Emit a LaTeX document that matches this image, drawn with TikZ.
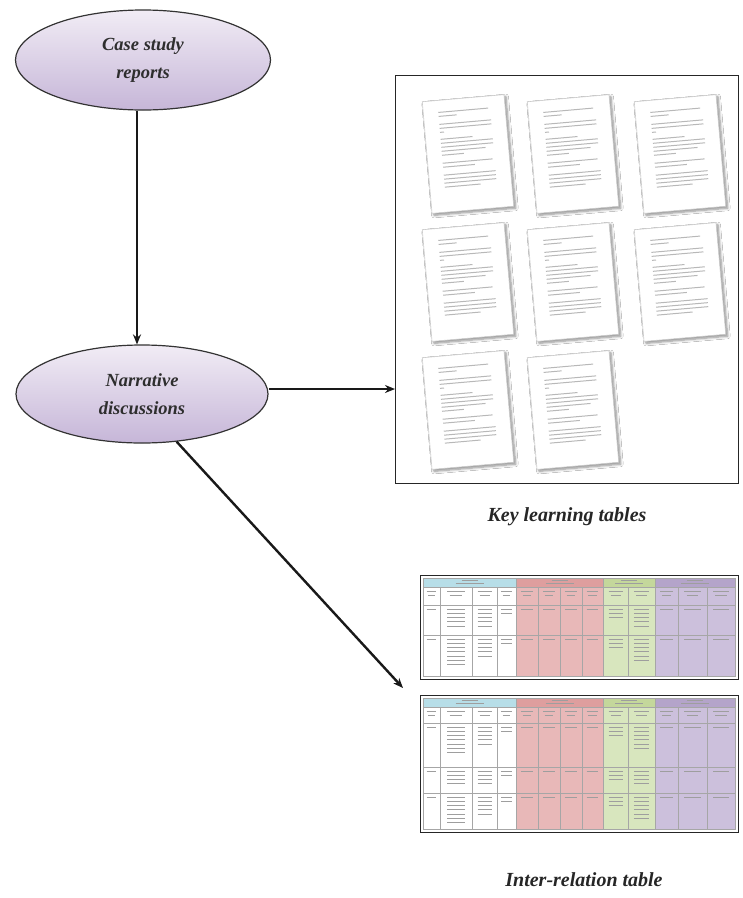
\documentclass[tikz,border=0pt]{standalone}
\usepackage{fontspec}
\setmainfont{Liberation Serif}
\usetikzlibrary{arrows.meta,shapes.geometric,shadows.blur}

\definecolor{ovaltop}{HTML}{F1ECF5}
\definecolor{ovalbot}{HTML}{C6B6D8}
\definecolor{hdblue}{HTML}{B7DEE8}
\definecolor{hdred}{HTML}{DE9E9E}
\definecolor{bdred}{HTML}{E8B8B8}
\definecolor{hdgreen}{HTML}{C4D79B}
\definecolor{bdgreen}{HTML}{D8E6BE}
\definecolor{hdpurple}{HTML}{B4A4CA}
\definecolor{bdpurple}{HTML}{CCC0DC}

\tikzset{
  oval/.style={ellipse, draw=black!80, line width=1.2pt,
    top color=ovaltop, bottom color=ovalbot,
    font=\fontsize{18.5}{28}\selectfont\bfseries\itshape, text=black!82, align=center},
  arr/.style={line width=2.4pt, black!90, -{Stealth[length=10pt,width=8pt]}},
  framebox/.style={draw=black!85, line width=1.4pt, anchor=north west, inner sep=0pt},
  caption/.style={font=\fontsize{20}{22}\selectfont\bfseries\itshape, text=black!85},
  sheet/.style={fill=white, draw=black!20, line width=0.6pt,
    blur shadow={shadow xshift=2pt, shadow yshift=-2pt, shadow blur steps=6, shadow blur radius=2.5pt, shadow opacity=45}},
  sheetline/.style={black!28, line width=1pt},
  cellrule/.style={black!35, line width=0.4pt},
  celltext/.style={black!38, line width=0.8pt},
}

% one printed sheet with lines of text, centred at #1/#2, turned by #3 degrees
\newcommand\sheetat[3]{%
  \begin{scope}[shift={(#1,#2)}, rotate=#3]
    \path[sheet] (-41,-56) rectangle (41,56);
    \foreach \ly/\lx in {-44/24,-40/-8,-32/26,-28/26,-24/-22,-17/6,-13/26,-9/26,-5/18,-1/-4,
                         7/24,11/6,19/26,23/26,27/26,31/10}
      \draw[sheetline] (-26,\ly) -- (\lx,\ly);
  \end{scope}}

% one relation table: #1 top of the inner grid, #2 header/sub-header split,
% #3 sub-header bottom, #4 list of body rows ya/yb, #5 bottom of the grid
\newcommand\reltable[5]{%
  % colour bands
  \fill[hdblue]   (423,#1) rectangle (516,#2);
  \fill[hdred]    (516,#1) rectangle (603,#2);
  \fill[hdgreen]  (603,#1) rectangle (655,#2);
  \fill[hdpurple] (655,#1) rectangle (735,#2);
  \fill[white]    (423,#2) rectangle (516,#5);
  \fill[bdred]    (516,#2) rectangle (603,#5);
  \fill[bdgreen]  (603,#2) rectangle (655,#5);
  \fill[bdpurple] (655,#2) rectangle (735,#5);
  % group titles
  \foreach \gx in {469.5,559.5,629,695}
    {\draw[celltext] (\gx-8,#1+2.5) -- (\gx+8,#1+2.5);
     \draw[celltext] (\gx-14,#1+5.5) -- (\gx+14,#1+5.5);}
  % rules
  \draw[cellrule] (423,#1) rectangle (735,#5);
  \draw[cellrule] (423,#2) -- (735,#2);
  \draw[cellrule] (423,#3) -- (735,#3);
  \foreach \ya/\yb in {#4} \draw[cellrule] (423,\yb) -- (735,\yb);
  \foreach \cx in {440,472,497,538,560,582,628,678,707}
    \draw[cellrule] (\cx,#2) -- (\cx,#5);
  \foreach \cx in {516,603,655}
    \draw[cellrule] (\cx,#1) -- (\cx,#5);
  % sub-header entries
  \foreach \xa/\xb in {423/440,440/472,472/497,497/516,516/538,538/560,560/582,582/603,
                       603/628,628/655,655/678,678/707,707/735}
    {\draw[celltext] ({(\xa+\xb)/2-0.28*(\xb-\xa)},#2+4.5) -- ({(\xa+\xb)/2+0.28*(\xb-\xa)},#2+4.5);
     \draw[celltext] ({(\xa+\xb)/2-0.2*(\xb-\xa)},#2+8.5) -- ({(\xa+\xb)/2+0.2*(\xb-\xa)},#2+8.5);}
  % body entries
  \foreach \ya/\yb in {#4}
    \foreach \xa/\xb/\n in {423/440/1,440/472/7,472/497/5,497/516/2,516/538/1,538/560/1,560/582/1,
                            582/603/1,603/628/3,628/655/6,655/678/1,678/707/1,707/735/1}
      {\pgfmathtruncatemacro\m{min(\n,floor((\yb-\ya-6)/4.2))}
       \foreach \k in {1,...,\m}
         \draw[celltext] ({(\xa+\xb)/2-0.28*(\xb-\xa)},\ya+4.2*\k) -- ({(\xa+\xb)/2+0.28*(\xb-\xa)},\ya+4.2*\k);}
}

\begin{document}
\begin{tikzpicture}[x=1pt, y=-1pt]
  \useasboundingbox[fill=white] (0,0) rectangle (743,898);

  % the two source ovals
  \node[oval, minimum width=255pt, minimum height=100pt] (cases) at (143,60) {Case study\\reports};
  \node[oval, minimum width=252pt, minimum height=98pt] (narr) at (142,394) {Narrative\\discussions};

  % frame holding the key learning sheets
  \node[framebox, minimum width=343pt, minimum height=408pt] (klbox) at (395,75) {};
  \sheetat{468}{154}{5}
  \sheetat{573}{154}{5}
  \sheetat{680}{154}{5}
  \sheetat{468}{282}{5}
  \sheetat{573}{282}{5}
  \sheetat{680}{282}{5}
  \sheetat{468}{410}{5}
  \sheetat{573}{410}{5}
  \node[caption] (kltitle) at (567,517) {Key learning tables};

  % the two relation tables
  \node[framebox, minimum width=318pt, minimum height=104pt] (tabone) at (420,575) {};
  \reltable{578}{587}{605}{605/635,635/676}{676}
  \node[framebox, minimum width=318pt, minimum height=137pt] (tabtwo) at (420,695) {};
  \reltable{698}{707}{723}{723/767,767/793,793/829}{829}
  \node[caption] (irtitle) at (584,880) {Inter-relation table};

  % connectors
  \coordinate (tabin) at (403,688);
  \draw[arr] ([xshift=-6pt]cases.south) -- ([xshift=-5pt]narr.north);
  \draw[arr] ([yshift=5pt]narr.east) -- ([yshift=5pt]narr.east -| klbox.west);
  \draw[arr] (narr.-54) -- (tabin);
\end{tikzpicture}
\end{document}
